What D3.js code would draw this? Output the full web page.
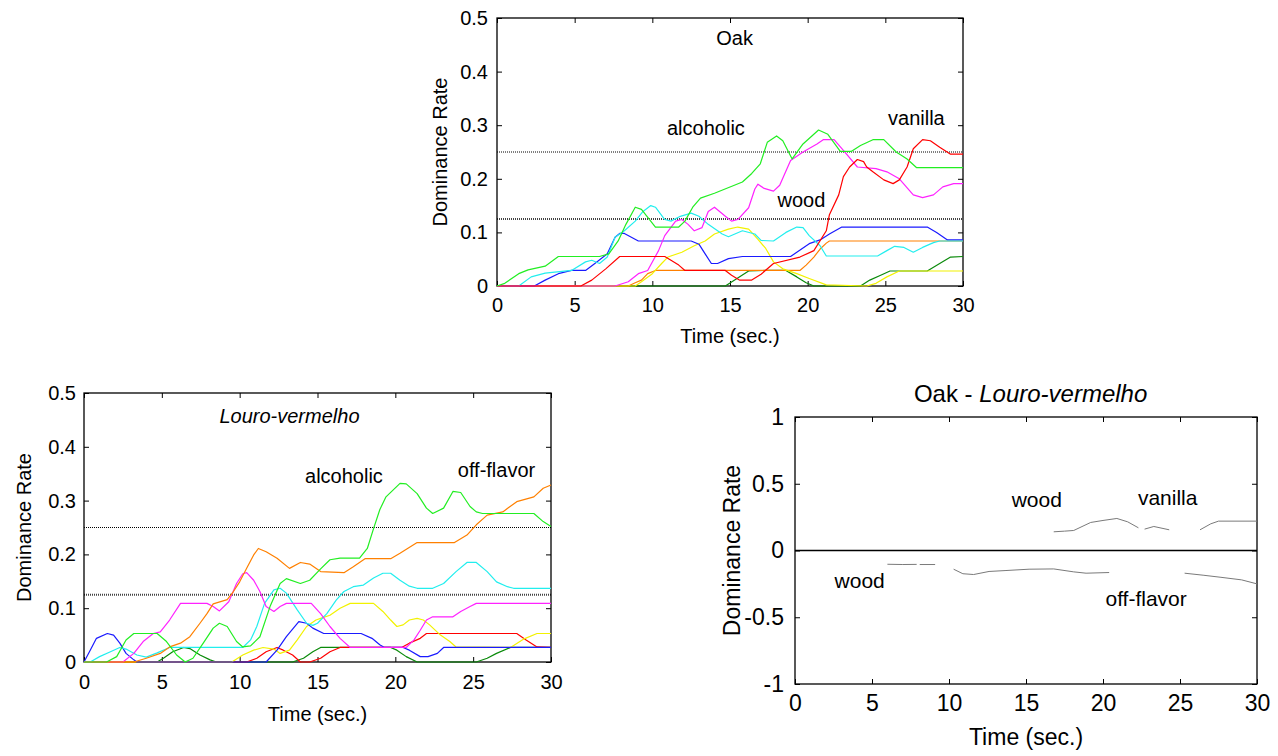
<!DOCTYPE html>
<html>
<head>
<meta charset="utf-8">
<script src="https://cdn.jsdelivr.net/npm/d3@7"></script>
<style>
  body { margin: 0; background: #fff; }
  svg { display: block; }
  text { font-family: Arial, "Liberation Sans", sans-serif; fill: #000; }
</style>
</head>
<body>
<svg id="chart" width="1278" height="756"></svg>
<script>
// ---- data: [time (s), dominance rate] ----
const timeTicks = [0, 5, 10, 15, 20, 25, 30];
const rateTicks = [0, 0.1, 0.2, 0.3, 0.4, 0.5];
const diffTicks = [-1, -0.5, 0, 0.5, 1];
const refLevels = [0.25, 0.125];

// Oak
const oakAlcoholic = [[0,0],[0.5,0.005],[1.4,0.023],[2,0.03],[3.1,0.037],[3.95,0.055],[6.6,0.055],[7.2,0.06],[7.8,0.084],[8.3,0.115],[8.9,0.147],[9.3,0.143],[10.2,0.11],[11.7,0.11],[12.1,0.121],[12.6,0.147],[13.1,0.164],[14,0.173],[15.8,0.194],[16.4,0.21],[16.95,0.228],[17.4,0.268],[18,0.28],[18.4,0.271],[19,0.237],[19.7,0.265],[20.7,0.291],[21.3,0.283],[22.1,0.251],[22.8,0.251],[23.4,0.262],[24.2,0.273],[24.9,0.273],[25.7,0.25],[26.4,0.237],[27,0.221],[30,0.221]];
const oakVanilla = [[0,0],[5.4,0],[6.1,0.011],[7,0.032],[7.9,0.055],[10.8,0.055],[11.2,0.048],[11.7,0.039],[12.1,0.029],[14.7,0.029],[15.1,0.02],[15.6,0.011],[16.4,0.011],[17,0.022],[17.8,0.042],[19.5,0.054],[20.4,0.066],[21.2,0.103],[21.4,0.133],[22,0.17],[22.3,0.204],[22.7,0.222],[23.2,0.236],[23.6,0.232],[23.8,0.222],[24.2,0.213],[24.9,0.198],[25.5,0.191],[25.9,0.198],[26.4,0.222],[26.8,0.256],[27.4,0.273],[27.9,0.271],[28.5,0.259],[29.2,0.246],[30,0.246]];
const oakWood = [[0,0],[7.6,0],[8.45,0.008],[9.1,0.023],[9.7,0.029],[10.4,0.066],[10.8,0.094],[11.5,0.121],[11.9,0.124],[12.3,0.115],[12.7,0.103],[13.2,0.109],[13.6,0.139],[14,0.147],[14.7,0.13],[15.1,0.121],[15.5,0.124],[16.2,0.146],[16.6,0.181],[16.8,0.19],[17.2,0.182],[17.8,0.177],[18.2,0.188],[18.9,0.234],[19.7,0.25],[20.6,0.265],[21,0.273],[21.7,0.273],[22.3,0.253],[23.2,0.222],[24.4,0.219],[25.1,0.213],[25.9,0.2],[26.8,0.17],[27.4,0.165],[28.1,0.17],[28.7,0.185],[29.4,0.191],[30,0.191]];
const oakCyan = [[0,0],[1.4,0],[2.2,0.017],[3.1,0.024],[4.8,0.029],[5.7,0.045],[6.1,0.048],[6.6,0.042],[7.1,0.054],[7.6,0.091],[8.2,0.103],[8.9,0.121],[9.4,0.139],[9.9,0.15],[10.2,0.147],[10.8,0.124],[11.2,0.121],[11.8,0.13],[12.5,0.136],[13,0.13],[13.6,0.115],[14.5,0.097],[14.9,0.092],[15.8,0.103],[16.6,0.097],[17,0.085],[17.8,0.084],[18.6,0.1],[19.3,0.11],[19.7,0.109],[20.1,0.094],[20.8,0.075],[21.2,0.056],[24.5,0.056],[25.1,0.066],[25.6,0.074],[26.2,0.072],[26.8,0.063],[27.4,0.072],[28.1,0.081],[28.5,0.084],[30,0.084]];
const oakBlue = [[0,0],[2.4,0],[3.1,0.011],[3.95,0.023],[4.8,0.029],[5.7,0.029],[6.3,0.042],[7.1,0.06],[7.6,0.091],[7.9,0.098],[8.2,0.098],[9.1,0.084],[12.5,0.084],[13,0.078],[13.4,0.06],[13.8,0.042],[14.2,0.042],[14.9,0.051],[15.8,0.055],[18.9,0.055],[19.3,0.063],[20.1,0.079],[20.8,0.086],[21.4,0.097],[22.2,0.11],[27.7,0.11],[28.3,0.1],[29,0.086],[30,0.086]];
const oakYellow = [[0,0],[8.9,0],[9.3,0.008],[10,0.023],[10.6,0.042],[11,0.054],[11.9,0.063],[12.7,0.075],[13.4,0.084],[14,0.097],[14.9,0.106],[15.5,0.11],[16.2,0.106],[16.8,0.087],[17.3,0.07],[17.8,0.045],[18.4,0.032],[19.3,0.023],[20.1,0.014],[21.2,0.002],[23.8,0],[24.4,0.005],[25.1,0.017],[25.9,0.028],[30,0.028]];
const oakOrange = [[0,0],[8.45,0],[8.9,0.006],[9.3,0.011],[9.7,0.023],[10.2,0.029],[19.5,0.029],[19.9,0.039],[20.4,0.054],[20.8,0.069],[21.2,0.08],[21.4,0.084],[30,0.084]];
const oakDarkGreen = [[0,0],[14.7,0],[15.3,0.011],[16.2,0.028],[17.3,0.029],[18.6,0.029],[19.3,0.017],[19.9,0.006],[20.4,0],[23.4,0],[24,0.011],[24.7,0.02],[25.3,0.028],[27.7,0.028],[28.5,0.042],[29.2,0.054],[30,0.055]];

// Louro-vermelho
const louAlcoholic = [[0,0],[1.45,0],[2.1,0.01],[2.7,0.041],[3.2,0.053],[4.7,0.053],[5.3,0.038],[5.95,0.013],[6.5,0],[7,0.007],[7.66,0.035],[8.3,0.063],[8.7,0.072],[9.2,0.066],[9.8,0.038],[10.2,0.028],[10.7,0.03],[11.3,0.047],[11.95,0.103],[12.6,0.146],[13,0.155],[13.9,0.146],[14.5,0.152],[15.2,0.173],[15.8,0.19],[16.45,0.193],[17.7,0.193],[18.2,0.211],[18.6,0.248],[19,0.283],[19.4,0.307],[20.3,0.332],[20.7,0.331],[21.4,0.313],[22,0.286],[22.4,0.276],[23.1,0.286],[23.7,0.317],[24.2,0.315],[24.8,0.289],[25.2,0.279],[25.6,0.276],[28.9,0.276],[29.5,0.261],[30,0.252]];
const louOffFlavor = [[0,0],[3.2,0],[4,0.007],[4.9,0.016],[5.5,0.028],[6.2,0.035],[6.8,0.047],[7.45,0.072],[7.9,0.09],[8.3,0.108],[9.2,0.116],[9.6,0.131],[10,0.149],[10.5,0.177],[10.9,0.199],[11.2,0.211],[11.7,0.205],[12.4,0.193],[13.2,0.174],[13.9,0.185],[14.5,0.182],[15.2,0.168],[16.7,0.166],[17.3,0.177],[18.05,0.192],[19.7,0.192],[20.3,0.202],[21.4,0.222],[23.8,0.222],[24.6,0.236],[25.2,0.255],[25.9,0.273],[26.9,0.279],[27.8,0.298],[28.9,0.307],[29.5,0.323],[30,0.329]];
const louWood = [[0,0],[2.5,0],[3.2,0.016],[3.8,0.038],[4.45,0.053],[4.9,0.056],[5.5,0.078],[6.2,0.109],[7.9,0.109],[8.3,0.103],[8.7,0.095],[9.3,0.112],[9.8,0.146],[10.2,0.164],[10.45,0.166],[10.9,0.152],[11.3,0.131],[11.7,0.103],[12.2,0.094],[12.6,0.103],[13,0.109],[14.6,0.109],[15.2,0.09],[15.8,0.066],[16.45,0.044],[17.1,0.027],[20.7,0.027],[21.2,0.041],[21.6,0.059],[22,0.078],[22.4,0.084],[23.7,0.084],[24.2,0.094],[24.8,0.103],[25.2,0.109],[30,0.109]];
const louCyan = [[0,0],[0.4,0],[1,0.01],[1.7,0.019],[2.3,0.027],[2.7,0.024],[3.4,0.013],[4,0.009],[4.7,0.017],[5.5,0.027],[10.2,0.027],[10.7,0.041],[11.1,0.066],[11.6,0.109],[12.2,0.134],[12.6,0.137],[13,0.128],[13.7,0.097],[14.3,0.072],[14.7,0.068],[15,0.072],[15.6,0.09],[16.2,0.115],[16.7,0.131],[17.3,0.14],[17.95,0.143],[18.6,0.156],[19.2,0.165],[19.7,0.165],[20.3,0.152],[20.9,0.141],[21.4,0.137],[22.4,0.137],[23.1,0.146],[23.9,0.168],[24.6,0.185],[25.2,0.185],[25.9,0.168],[26.5,0.149],[27.2,0.14],[27.6,0.137],[30,0.137]];
const louBlue = [[0,0],[0.4,0.022],[0.8,0.044],[1.5,0.053],[1.9,0.05],[2.3,0.035],[2.7,0.016],[3.2,0.004],[3.4,0],[11.7,0],[12.4,0.022],[13,0.047],[13.8,0.075],[14.3,0.072],[14.7,0.063],[15.4,0.053],[17.8,0.053],[18.5,0.044],[19,0.032],[19.3,0.027],[20.5,0.027],[20.9,0.022],[21.6,0.01],[22.1,0.01],[22.7,0.016],[23.1,0.027],[30,0.027]];
const louYellow = [[0,0],[9.5,0],[10.2,0.013],[10.9,0.022],[11.5,0.027],[12.2,0.024],[12.6,0.016],[13.2,0.022],[13.7,0.041],[14.3,0.066],[14.9,0.078],[15.2,0.081],[15.8,0.087],[16.45,0.1],[17.1,0.109],[18.6,0.109],[19.2,0.094],[19.7,0.078],[20.1,0.066],[20.5,0.069],[20.9,0.078],[21.4,0.081],[21.8,0.078],[22.2,0.069],[22.9,0.05],[23.5,0.038],[23.9,0.028],[27.4,0.027],[28.2,0.042],[29.1,0.053],[30,0.053]];
const louRed = [[0,0],[10.45,0],[11.1,0.007],[11.7,0.019],[12.4,0.027],[12.8,0.022],[13.4,0.013],[13.9,0],[14.5,0],[15.2,0.007],[15.8,0.019],[16.45,0.027],[20.4,0.027],[20.9,0.035],[21.6,0.044],[22,0.053],[27.8,0.053],[28.4,0.041],[29.1,0.028],[30,0.027]];
const louDarkGreen = [[0,0],[4.7,0],[5.1,0.007],[5.7,0.019],[6.4,0.027],[6.8,0.025],[7.45,0.013],[8.1,0.004],[8.5,0],[13.4,0],[14.1,0.007],[14.7,0.019],[15.2,0.027],[19.7,0.027],[20.1,0.022],[20.7,0.01],[21.4,0],[25.2,0],[25.9,0.007],[26.5,0.016],[27.4,0.027],[30,0.027]];

// Oak - Louro-vermelho (significant stretches only)
const diffWoodNegA = [[6,-0.103],[7,-0.105],[7.9,-0.104]];
const diffWoodNegB = [[8.1,-0.105],[9.1,-0.105]];
const diffAlcoholicNeg = [[10.3,-0.14],[10.9,-0.174],[11.6,-0.18],[12.6,-0.157],[13.7,-0.15],[15.2,-0.14],[16.8,-0.138],[18.1,-0.16],[18.9,-0.17],[20.4,-0.165]];
const diffOffFlavorNeg = [[25.3,-0.17],[26.5,-0.185],[27.6,-0.2],[29,-0.22],[30,-0.25]];
const diffWoodPos = [[16.8,0.14],[17.5,0.145],[18.1,0.15],[19.2,0.21],[20,0.225],[20.9,0.24],[21.6,0.215],[22.3,0.17]];
const diffVanillaPosA = [[22.7,0.16],[23.3,0.18],[24.3,0.155]];
const diffVanillaPosB = [[26.3,0.155],[27,0.2],[27.5,0.22],[30,0.22]];

const svg = d3.select("#chart");

function panel(cfg) {
  const x = d3.scaleLinear().domain([0, 30]).range([cfg.x0, cfg.x1]);
  const y = d3.scaleLinear().domain(cfg.yDomain).range([cfg.y0, cfg.y1]);
  const g = svg.append("g");
  const fs = cfg.fs;

  // axes, ticks pointing inward on all four sides
  const styleAxis = sel => {
    sel.attr("font-size", cfg.tickFs || fs).attr("font-family", null);
    sel.select(".domain").remove();
    sel.selectAll(".tick line").attr("stroke", "#000");
  };
  g.append("g").attr("transform", `translate(0,${cfg.y0})`)
    .call(d3.axisBottom(x).tickValues(timeTicks).tickSize(-5).tickPadding(cfg.xPad).tickFormat(String))
    .call(styleAxis);
  g.append("g").attr("transform", `translate(0,${cfg.y1})`)
    .call(d3.axisTop(x).tickValues(timeTicks).tickSize(-5).tickFormat(""))
    .call(styleAxis);
  g.append("g").attr("transform", `translate(${cfg.x0},0)`)
    .call(d3.axisLeft(y).tickValues(cfg.yTicks).tickSize(-5).tickPadding(cfg.yPad).tickFormat(String))
    .call(styleAxis);
  g.append("g").attr("transform", `translate(${cfg.x1},0)`)
    .call(d3.axisRight(y).tickValues(cfg.yTicks).tickSize(-5).tickFormat(""))
    .call(styleAxis);

  // reference levels: fine black dots at 0.25, heavier grey dots at 0.125
  (cfg.refs || []).forEach((r, i) => {
    g.append("line")
      .attr("x1", cfg.x0).attr("x2", cfg.x1)
      .attr("y1", y(r)).attr("y2", y(r))
      .attr("stroke", i === 0 ? "#000" : "#444")
      .attr("stroke-width", i === 0 ? 1 : 2)
      .attr("stroke-dasharray", "1,1");
  });

  if (cfg.zeroLine) {
    g.append("line")
      .attr("x1", cfg.x0).attr("x2", cfg.x1)
      .attr("y1", y(0)).attr("y2", y(0))
      .attr("stroke", "#000").attr("stroke-width", 1.5);
  }

  // box
  g.append("rect")
    .attr("x", cfg.x0).attr("y", cfg.y1)
    .attr("width", cfg.x1 - cfg.x0).attr("height", cfg.y0 - cfg.y1)
    .attr("fill", "none").attr("stroke", "#000").attr("stroke-width", 1.3);

  const line = d3.line().x(d => x(d[0])).y(d => y(d[1]));
  cfg.series.forEach(s => {
    g.append("path").datum(s.data)
      .attr("d", line)
      .attr("fill", "none")
      .attr("stroke", s.color)
      .attr("stroke-width", s.width || 1.2)
      .attr("stroke-linejoin", "round");
  });

  // in-plot labels
  cfg.labels.forEach(l => {
    const t = g.append("text")
      .attr("x", x(l.t)).attr("y", y(l.v))
      .attr("text-anchor", "middle")
      .attr("font-size", l.fs || fs);
    l.parts.forEach(p => t.append("tspan").attr("font-style", p.italic ? "italic" : null).text(p.s));
  });

  g.append("text")
    .attr("x", (cfg.x0 + cfg.x1) / 2).attr("y", cfg.y0 + cfg.xTitleGap)
    .attr("text-anchor", "middle").attr("font-size", cfg.tickFs || fs)
    .text("Time (sec.)");
  g.append("text")
    .attr("transform", `translate(${cfg.x0 - cfg.yTitleGap},${(cfg.y0 + cfg.y1) / 2}) rotate(-90)`)
    .attr("text-anchor", "middle").attr("font-size", cfg.tickFs || fs)
    .text("Dominance Rate");
}

const col = {
  green: "#22ee22", red: "#ff0000", magenta: "#ff22ff", cyan: "#22eeee",
  blue: "#1a1aff", yellow: "#f2f200", orange: "#ff8000", darkGreen: "#0a8a0a"
};

panel({
  x0: 497, x1: 963, y0: 286, y1: 18, yDomain: [0, 0.5], yTicks: rateTicks,
  fs: 20, xPad: 12, yPad: 9, xTitleGap: 57, yTitleGap: 50, refs: refLevels,
  series: [
    { data: oakDarkGreen, color: col.darkGreen },
    { data: oakOrange, color: col.orange },
    { data: oakYellow, color: col.yellow },
    { data: oakBlue, color: col.blue },
    { data: oakCyan, color: col.cyan },
    { data: oakWood, color: col.magenta },
    { data: oakVanilla, color: col.red },
    { data: oakAlcoholic, color: col.green }
  ],
  labels: [
    { t: 15.3, v: 0.45, parts: [{ s: "Oak" }] },
    { t: 13.45, v: 0.282, parts: [{ s: "alcoholic" }] },
    { t: 27.0, v: 0.30, parts: [{ s: "vanilla" }] },
    { t: 19.6, v: 0.147, parts: [{ s: "wood" }] }
  ]
});

panel({
  x0: 84, x1: 551, y0: 662, y1: 393, yDomain: [0, 0.5], yTicks: rateTicks,
  fs: 20, xPad: 13, yPad: 8, xTitleGap: 59, yTitleGap: 53, refs: refLevels,
  series: [
    { data: louDarkGreen, color: col.darkGreen },
    { data: louRed, color: col.red },
    { data: louYellow, color: col.yellow },
    { data: louBlue, color: col.blue },
    { data: louCyan, color: col.cyan },
    { data: louWood, color: col.magenta },
    { data: louOffFlavor, color: col.orange },
    { data: louAlcoholic, color: col.green }
  ],
  labels: [
    { t: 13.2, v: 0.444, parts: [{ s: "Louro-vermelho", italic: true }] },
    { t: 16.7, v: 0.333, parts: [{ s: "alcoholic" }] },
    { t: 26.5, v: 0.344, parts: [{ s: "off-flavor" }] }
  ]
});

panel({
  x0: 795, x1: 1257, y0: 684, y1: 417, yDomain: [-1, 1], yTicks: diffTicks,
  fs: 21, tickFs: 23, xPad: 11, yPad: 11, xTitleGap: 61, yTitleGap: 55, zeroLine: true,
  series: [diffWoodNegA, diffWoodNegB, diffAlcoholicNeg, diffOffFlavorNeg,
           diffWoodPos, diffVanillaPosA, diffVanillaPosB]
    .map(d => ({ data: d, color: "#7a7a7a", width: 1 })),
  labels: [
    { t: 15.3, v: 1.115, fs: 24, parts: [{ s: "Oak - " }, { s: "Louro-vermelho", italic: true }] },
    { t: 15.7, v: 0.326, parts: [{ s: "wood" }] },
    { t: 24.2, v: 0.34, parts: [{ s: "vanilla" }] },
    { t: 4.2, v: -0.28, parts: [{ s: "wood" }] },
    { t: 22.8, v: -0.415, parts: [{ s: "off-flavor" }] }
  ]
});
</script>
</body>
</html>
